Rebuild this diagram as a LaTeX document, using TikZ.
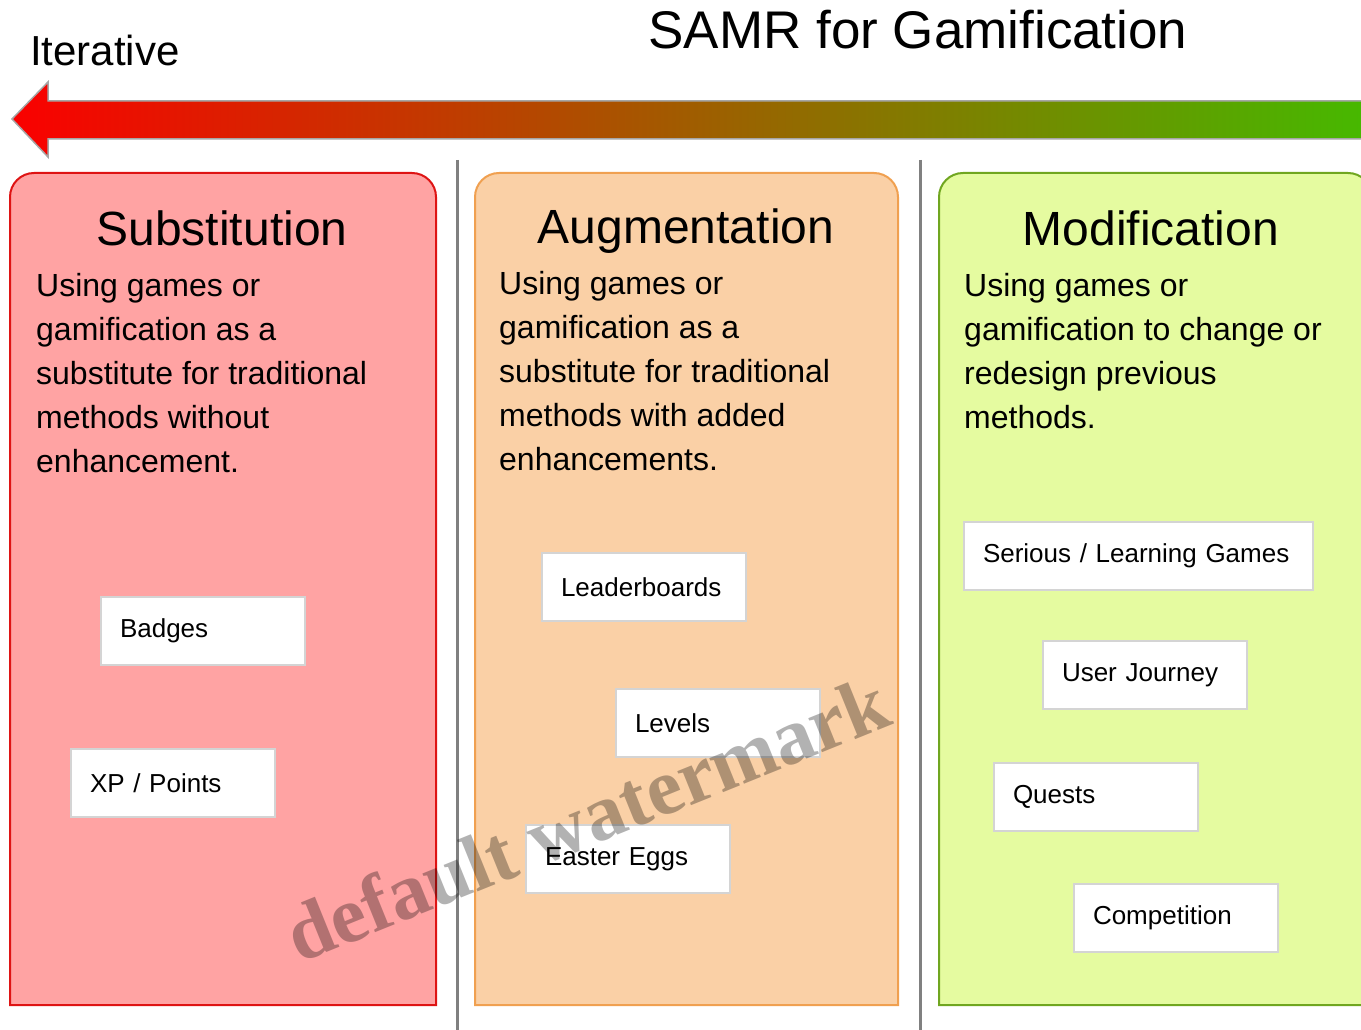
\documentclass[tikz,border=0pt]{standalone}
\usepackage{fontspec}
\setmainfont{Liberation Sans}
\newfontfamily\wmfont{Liberation Serif}

\definecolor{subfill}{RGB}{255,163,163}
\definecolor{subline}{RGB}{222,20,20}
\definecolor{augfill}{RGB}{250,208,166}
\definecolor{augline}{RGB}{240,160,80}
\definecolor{modfill}{RGB}{229,251,160}
\definecolor{modline}{RGB}{112,166,32}
\definecolor{tagline}{RGB}{212,212,212}
\definecolor{barred}{RGB}{250,0,0}
\definecolor{barbrown}{RGB}{165,95,0}
\definecolor{bargreen}{RGB}{70,185,0}

\tikzset{
	panel/.style={line width=2pt},
	sep/.style={line width=3pt,draw=gray},
	head/.style={font=\fontsize{48}{56}\selectfont,anchor=base,inner sep=0pt},
	blurb/.style={font=\fontsize{32}{44}\selectfont,align=left,anchor=north west,inner sep=0pt},
	tag/.style={draw=tagline,fill=white,line width=2pt,font=\fontsize{26}{30}\selectfont,
		minimum height=68pt,text width=166pt,inner xsep=19pt,inner ysep=0pt,align=left,anchor=north west}
}

\begin{document}
\begin{tikzpicture}[x=1pt,y=-1pt]
	\useasboundingbox (0,0) rectangle (1361,1030);
	\clip (0,0) rectangle (1361,1030);

	% direction bar
	\draw[draw=gray!70,line width=1.5pt,left color=barred,middle color=barbrown,right color=bargreen]
		(12,119) -- (48,82) -- (48,101) -- (1368,101) -- (1368,139) -- (48,139) -- (48,157) -- cycle;
	\node[anchor=base,font=\fontsize{53}{60}\selectfont,inner sep=0pt] (title) at (918,49) {SAMR for Gamification};
	\node[anchor=base west,font=\fontsize{42}{48}\selectfont,inner sep=0pt] (iter) at (30,66) {Iterative};

	% columns
	\filldraw[panel,draw=subline,fill=subfill] (10,1005) [rounded corners=24pt] -- (10,173) -- (436,173) [sharp corners] -- (436,1005) -- cycle;
	\filldraw[panel,draw=augline,fill=augfill] (475,1005) [rounded corners=24pt] -- (475,173) -- (898,173) [sharp corners] -- (898,1005) -- cycle;
	\filldraw[panel,draw=modline,fill=modfill] (939,1005) [rounded corners=24pt] -- (939,173) -- (1372,173) [sharp corners] -- (1372,1005) -- cycle;
	\draw[sep] (457,160) -- (457,1032);
	\draw[sep] (920,160) -- (920,1032);

	\node[head] (subst) at (222,245) {Substitution};
	\node[head] (augm) at (686,243) {Augmentation};
	\node[head] (modif) at (1151,245) {Modification};

	\node[blurb] (subtext) at (36,273) {Using games or\\gamification as a\\substitute for traditional\\methods without\\enhancement.};
	\node[blurb] (augtext) at (499,271) {Using games or\\gamification as a\\substitute for traditional\\methods with added\\enhancements.};
	\node[blurb] (modtext) at (964,273) {Using games or\\gamification to change or\\redesign previous\\methods.};

	% game elements
	\node[tag] (badges) at (100,596) {Badges};
	\node[tag] (xp) at (70,748) {XP / Points};
	\node[tag] (leader) at (541,552) {Leaderboards};
	\node[tag] (levels) at (615,688) {Levels};
	\node[tag] (eggs) at (525,824) {Easter Eggs};
	\node[tag,text width=311pt] (serious) at (963,521) {Serious / Learning Games};
	\node[tag] (journey) at (1042,640) {User Journey};
	\node[tag] (quests) at (993,762) {Quests};
	\node[tag] (compet) at (1073,883) {Competition};

	\node[rotate=22,font=\wmfont\bfseries\fontsize{80}{84}\selectfont,text=black,text opacity=0.3] (wm) at (587,818) {default watermark};
\end{tikzpicture}
\end{document}
